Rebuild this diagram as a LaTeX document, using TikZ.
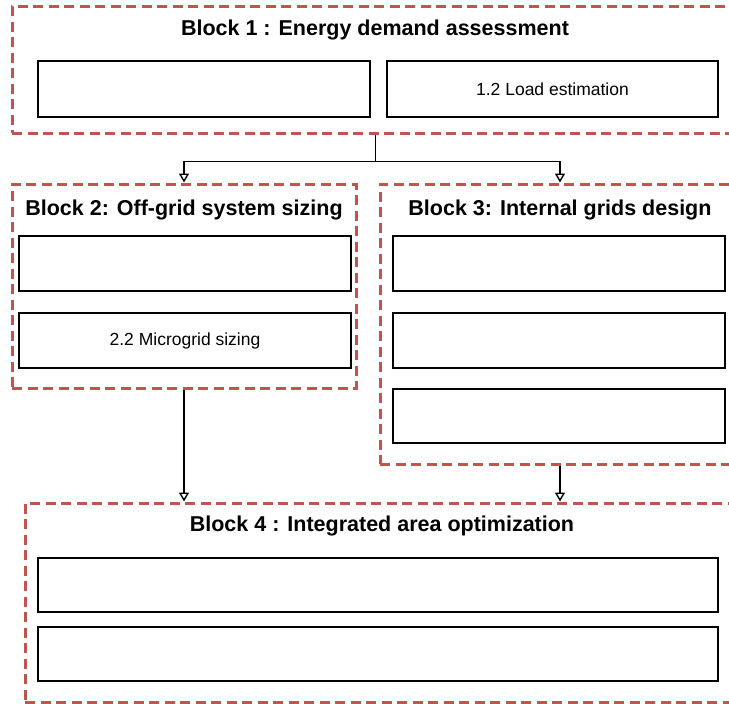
\documentclass[tikz,border=0pt]{standalone}
\usepackage{fontspec}
\setmainfont{Liberation Sans}
\usetikzlibrary{arrows.meta,calc}
\definecolor{blockred}{HTML}{C0544F}
\tikzset{
  blockframe/.style={draw=blockred, line width=3pt, dash pattern=on 10pt off 5.5pt, fill=none},
  taskbox/.style={draw=black, line width=1.8pt, fill=white, font=\fontsize{17.5}{20}\selectfont},
  blocktitle/.style={font=\bfseries\fontsize{21.5}{24}\selectfont, inner sep=0pt},
  flow/.style={draw=black, line width=1.6pt, -{Triangle[open, length=9pt, width=10pt, line width=1.4pt]}}
}
\begin{document}
\begin{tikzpicture}[x=1pt, y=-1pt]
\useasboundingbox (0,0) rectangle (729,704);
\clip (0,0) rectangle (729,704);
\fill[white] (0,0) rectangle (729,704);

% Block frames
\node[blockframe, minimum width=727pt, minimum height=127pt] (b1) at (375.5,69.5) {};
\node[blockframe, minimum width=344pt, minimum height=204pt] (b2) at (184,286) {};
\node[blockframe, minimum width=360pt, minimum height=280pt] (b3) at (560,324) {};
\node[blockframe, minimum width=714pt, minimum height=199pt] (b4) at (382,602.5) {};

% Block titles
\node[blocktitle] (t1) at (375,29.5) {Block 1 : Energy demand assessment};
\node[blocktitle] (t2) at (184,209.5) {Block 2: Off-grid system sizing};
\node[blocktitle] (t3) at (560,209.5) {Block 3: Internal grids design};
\node[blocktitle] (t4) at (382,525.5) {Block 4 : Integrated area optimization};

% Task boxes of block 1
\node[taskbox, minimum width=332pt, minimum height=56pt] (s11) at (204,89) {};
\node[taskbox, minimum width=331pt, minimum height=56pt] (s12) at (552.5,89) {1.2 Load estimation};

% Task boxes of block 2
\node[taskbox, minimum width=332pt, minimum height=55pt] (s21) at (185,263.5) {};
\node[taskbox, minimum width=332pt, minimum height=55pt] (s22) at (185,340.5) {2.2 Microgrid sizing};

% Task boxes of block 3
\node[taskbox, minimum width=332pt, minimum height=55pt] (s31) at (559,263.5) {};
\node[taskbox, minimum width=332pt, minimum height=55pt] (s32) at (559,340.5) {};
\node[taskbox, minimum width=332pt, minimum height=54pt] (s33) at (559,416) {};

% Task boxes of block 4
\node[taskbox, minimum width=680pt, minimum height=54pt] (s41) at (378,585) {};
\node[taskbox, minimum width=680pt, minimum height=54pt] (s42) at (378,654) {};

% Connectors between blocks
\coordinate (split) at ($(b1.south)+(0,27)$);
\draw[flow] (b1.south) -- (split) -| (b2.north);
\draw[flow] (split) -| (b3.north);
\draw[flow] (b2.south) -- (b2.south |- b4.north);
\draw[flow] (b3.south) -- (b3.south |- b4.north);
\end{tikzpicture}
\end{document}
